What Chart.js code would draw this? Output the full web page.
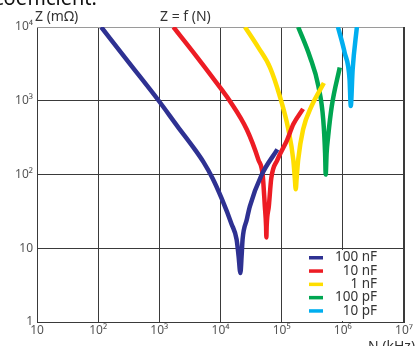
<!DOCTYPE html>
<html>
<head>
<meta charset="utf-8">
<script src="https://cdn.jsdelivr.net/npm/chart.js@4.4.1/dist/chart.umd.min.js"></script>
<style>
  body { margin: 0; background: #fff; }
  #wrap { position: relative; width: 416px; height: 346px; overflow: hidden; }
</style>
</head>
<body>
<div id="wrap"><canvas id="chart" width="416" height="346"></canvas></div>
<script>
// series: N in kHz, Z in mOhm
const seriesLabels = ['100 nF', '10 nF', '1 nF', '100 pF', '10 pF'];
const seriesColors = ['#2e3192', '#ed1c24', '#ffde00', '#00a651', '#00aeef'];

const n100nF = [112, 316, 977, 1995, 3802, 5248, 7413, 10471, 15136, 18323, 19770, 21135, 22130, 22961, 26915, 30200, 46774, 85114];
const z100nF = [10000, 3311, 1000, 447, 219, 148, 89, 47, 21.4, 13.2, 7.8, 4.6, 7.8, 13.2, 24.5, 37, 98, 219];

const n10nF = [1698, 4074, 10470, 14125, 26915, 41687, 48978, 53088, 55590, 56234, 56885, 61660, 67608, 85114, 123027, 154882, 223872];
const z10nF = [10000, 3981, 1413, 1000, 407, 158, 98, 37, 20, 14, 20, 37, 89, 158, 295, 479, 776];

const n1nF = [25119, 41687, 64565, 93325, 128825, 154882, 164059, 169824, 175792, 186209, 223872, 309030, 489779];
const z1nF = [10000, 5248, 2818, 1148, 407, 158, 89, 63, 89, 158, 407, 851, 1738];

const n100pF = [186209, 288403, 398107, 478630, 512861, 524807, 543250, 575440, 660693, 891251];
const z100pF = [10000, 3981, 1585, 550, 195, 100, 195, 331, 851, 2818];

const n10pF = [831764, 1071519, 1288250, 1348963, 1445440, 1698244];
const z10pF = [10000, 4467, 1950, 851, 2630, 10000];

const xTicks = [10, 100, 1e3, 1e4, 1e5, 1e6, 1e7];
const xTickLabels = ['10', '10²', '10³', '10⁴', '10⁵', '10⁶', '10⁷'];
const yTicks = [1, 10, 100, 1000, 10000];
const yTickLabels = ['1', '10', '10²', '10³', '10⁴'];

const seriesN = [n100nF, n10nF, n1nF, n100pF, n10pF];
const seriesZ = [z100nF, z10nF, z1nF, z100pF, z10pF];

const FONT = "'Noto Sans', 'DejaVu Sans', sans-serif";
const GRID = '#3a3a3a';

const datasets = seriesLabels.map((label, i) => ({
    label,
    data: seriesN[i].map((n, j) => ({ x: n, y: seriesZ[i][j] })),
    showLine: true,
    borderColor: seriesColors[i],
    backgroundColor: seriesColors[i],
    borderWidth: 4.5,
    pointRadius: 0,
    cubicInterpolationMode: 'monotone',
    borderCapStyle: 'butt',
    clip: 0
}));

const decor = {
    id: 'decor',
    beforeDatasetsDraw(chart) {
        const { ctx, chartArea: a } = chart;
        ctx.save();
        ctx.lineWidth = 1;
        ctx.strokeStyle = '#9a9a9a';
        ctx.beginPath();
        ctx.moveTo(a.left, a.top + 0.5);
        ctx.lineTo(a.right, a.top + 0.5);
        ctx.stroke();
        ctx.strokeStyle = GRID;
        ctx.beginPath();
        ctx.moveTo(Math.round(a.right) - 0.5, a.top);
        ctx.lineTo(Math.round(a.right) - 0.5, a.bottom);
        ctx.stroke();
        ctx.restore();
    },
    afterDatasetsDraw(chart) {
        const { ctx, chartArea: a } = chart;
        ctx.save();
        // legend box inside the plot, bottom right
        ctx.fillStyle = '#fff';
        ctx.fillRect(290, 250, a.right - 291, a.bottom - 251);
        ctx.font = '13.5px ' + FONT;
        ctx.textAlign = 'right';
        ctx.textBaseline = 'middle';
        seriesLabels.forEach((label, i) => {
            const y = 257.5 + i * 13.3;
            ctx.fillStyle = seriesColors[i];
            ctx.fillRect(309, y - 1.5, 14, 3.5);
            ctx.fillStyle = '#333';
            ctx.fillText(label, 377, y);
        });
        ctx.restore();
    },
    afterDraw(chart) {
        const { ctx } = chart;
        ctx.save();
        ctx.fillStyle = '#333';
        ctx.font = '14px ' + FONT;
        ctx.textAlign = 'left';
        ctx.textBaseline = 'alphabetic';
        ctx.fillText('Z (mΩ)', 35, 21);
        ctx.fillText('Z = f (N)', 160, 21);
        ctx.textBaseline = 'top';
        ctx.fillText('N (kHz)', 368, 340);
        ctx.fillStyle = '#111';
        ctx.font = '20px ' + FONT;
        ctx.textBaseline = 'alphabetic';
        ctx.fillText('coefficient.', -6, 5);
        ctx.restore();
    }
};

new Chart(document.getElementById('chart'), {
    type: 'scatter',
    data: { datasets },
    plugins: [decor],
    options: {
        responsive: false,
        animation: false,
        layout: { padding: { top: 27, right: 12, left: 0, bottom: 0 } },
        plugins: { legend: { display: false }, tooltip: { enabled: false } },
        scales: {
            x: {
                type: 'logarithmic',
                min: 10,
                max: 1e7,
                afterBuildTicks: (scale) => { scale.ticks = xTicks.map(v => ({ value: v })); },
                afterFit: (scale) => { scale.height = 24; },
                ticks: {
                    autoSkip: false,
                    maxRotation: 0,
                    padding: 1,
                    color: '#555',
                    font: { family: FONT, size: 12 },
                    callback: (v) => xTickLabels[xTicks.indexOf(v)]
                },
                grid: { color: GRID, lineWidth: 1, drawTicks: false },
                border: { display: true, color: GRID, width: 1 }
            },
            y: {
                type: 'logarithmic',
                min: 1,
                max: 1e4,
                afterBuildTicks: (scale) => { scale.ticks = yTicks.map(v => ({ value: v })); },
                afterFit: (scale) => { scale.width = 37; },
                ticks: {
                    autoSkip: false,
                    padding: 4,
                    color: '#555',
                    font: { family: FONT, size: 12 },
                    callback: (v) => yTickLabels[yTicks.indexOf(v)]
                },
                grid: { color: GRID, lineWidth: 1, drawTicks: false },
                border: { display: true, color: GRID, width: 1 }
            }
        }
    }
});
</script>
</body>
</html>
